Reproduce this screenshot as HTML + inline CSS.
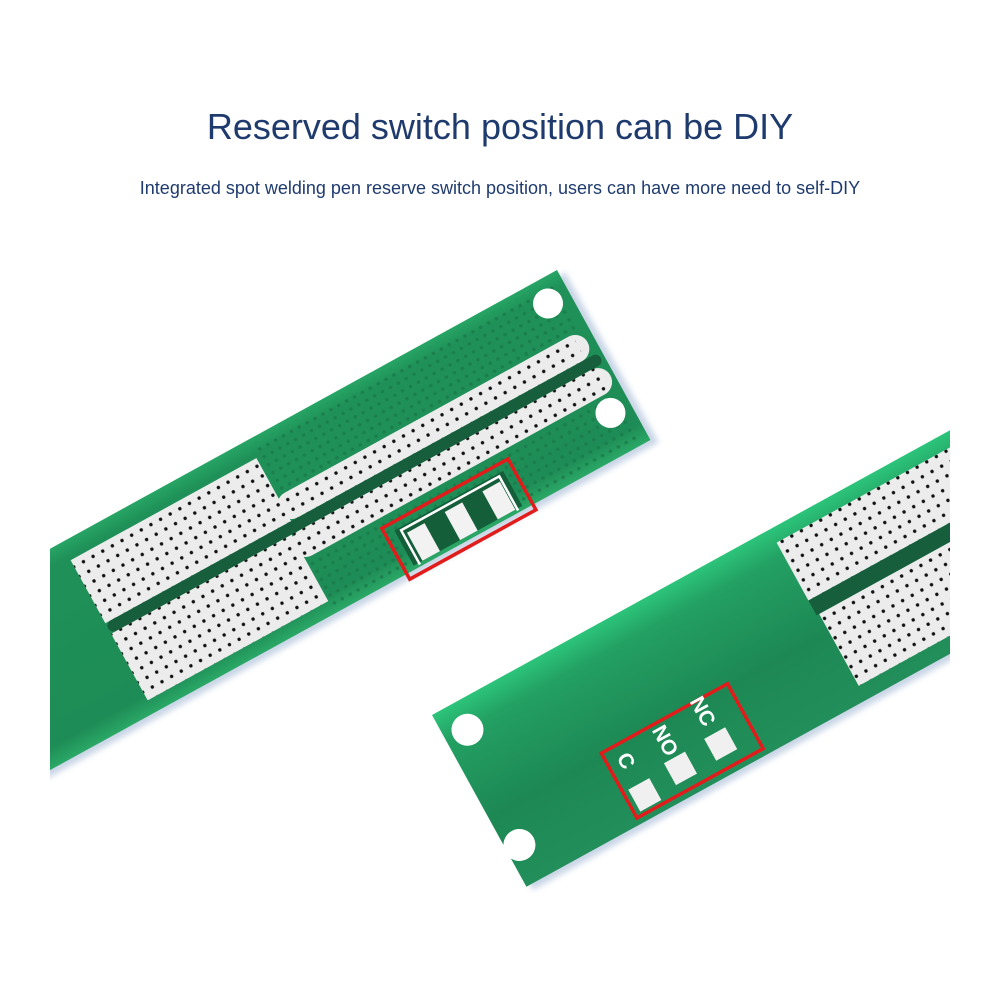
<!DOCTYPE html>
<html><head><meta charset="utf-8"><style>
html,body{margin:0;padding:0;background:#fff;}
body{width:1000px;height:1000px;overflow:hidden;position:relative;font-family:"Liberation Sans",sans-serif;}
.t1{position:absolute;top:106px;left:0;width:1000px;text-align:center;font-size:36px;color:#1f3b6e;}
.t2{position:absolute;top:178px;left:0;width:1000px;text-align:center;font-size:18px;color:#1f3b6e;}
svg{position:absolute;left:0;top:0;}
</style></head><body>
<div class="t1">Reserved switch position can be DIY</div>
<div class="t2">Integrated spot welding pen reserve switch position, users can have more need to self-DIY</div>
<svg width="1000" height="1000" viewBox="0 0 1000 1000">
<defs>
<pattern id="dots" width="11" height="11" patternUnits="userSpaceOnUse"><circle cx="5.5" cy="5.5" r="1.7" fill="#111"/></pattern>
<pattern id="gdots" width="9" height="9" patternUnits="userSpaceOnUse"><circle cx="4.5" cy="4.5" r="1.8" fill="#1a7a4a"/></pattern>
<linearGradient id="g1" x1="0" y1="0" x2="0" y2="1">
<stop offset="0" stop-color="#27a565"/><stop offset="0.08" stop-color="#1f9158"/><stop offset="0.9" stop-color="#1e8c56"/><stop offset="1" stop-color="#2aa866"/></linearGradient>
<linearGradient id="g2" x1="0" y1="0" x2="0" y2="1">
<stop offset="0" stop-color="#2cc47a"/><stop offset="0.15" stop-color="#23a063"/><stop offset="0.6" stop-color="#1d8854"/><stop offset="1" stop-color="#228f5a"/></linearGradient>
<clipPath id="c1"><rect x="50" y="0" width="950" height="1000"/></clipPath>
<clipPath id="c2"><rect x="0" y="0" width="950" height="1000"/></clipPath>
<clipPath id="cb"><rect x="-800" y="0" width="797" height="194"/></clipPath>
<filter id="bl"><feGaussianBlur stdDeviation="3"/></filter>
</defs>

<!-- Board 1 -->
<g clip-path="url(#c1)">
<g transform="translate(557,270) rotate(-28.8)">
<rect x="-800" y="6" width="806" height="194" fill="#c9d6e6" filter="url(#bl)"/>
<rect x="-800" y="0" width="800" height="194" fill="url(#g1)"/>
<rect x="-354" y="6" width="345" height="56" fill="url(#gdots)" opacity="0.8"/>
<rect x="-360" y="134" width="350" height="56" fill="url(#gdots)" opacity="0.8"/>
<g clip-path="url(#cb)">
<rect x="-566" y="20" width="212" height="72" fill="#ececec"/>
<rect x="-360" y="64" width="352" height="28" rx="14" fill="#ececec"/>
<rect x="-566" y="20" width="212" height="72" fill="url(#dots)"/>
<rect x="-354" y="64" width="336" height="28" fill="url(#dots)"/>
<rect x="-566" y="92" width="562" height="12" rx="6" fill="#175e3c"/>
<rect x="-566" y="104" width="206" height="76" fill="#ececec"/>
<rect x="-366" y="104" width="362" height="28" rx="14" fill="#ececec"/>
<rect x="-566" y="104" width="206" height="76" fill="url(#dots)"/>
<rect x="-360" y="104" width="346" height="28" fill="url(#dots)"/>
</g>
<circle cx="-24" cy="25" r="15" fill="#fff"/>
<circle cx="-22" cy="151" r="15" fill="#fff"/>
<rect x="-268" y="150" width="124" height="40" fill="#145f3a"/>
<path d="M-262 192 V153 H-150 V192" fill="none" stroke="#fff" stroke-width="2.5"/>
<rect x="-258" y="158" width="20" height="32" fill="#f2f2f2"/>
<rect x="-215" y="158" width="20" height="32" fill="#f2f2f2"/>
<rect x="-172" y="158" width="20" height="32" fill="#f2f2f2"/>
<rect x="-278" y="142" width="144" height="58" fill="none" stroke="#e21b1b" stroke-width="3.5"/>
</g>
</g>

<!-- Board 2 -->
<g clip-path="url(#c2)">
<g transform="translate(432,715) rotate(-28.8)">
<rect x="4" y="8" width="800" height="194" fill="#c9d6e6" filter="url(#bl)"/>
<rect x="0" y="0" width="800" height="196" fill="url(#g2)"/>
<rect x="385" y="15" width="400" height="66" fill="#ececec"/>
<rect x="385" y="15" width="400" height="66" fill="url(#dots)"/>
<rect x="385" y="81" width="400" height="17" fill="#175e3c"/>
<rect x="388" y="98" width="400" height="82" fill="#ececec"/>
<rect x="388" y="98" width="400" height="82" fill="url(#dots)"/>
<circle cx="24" cy="30" r="16" fill="#fff"/>
<circle cx="14" cy="156" r="16" fill="#fff"/>
<rect x="130" y="115" width="144" height="74" fill="none" stroke="#e21b1b" stroke-width="3.5"/>
<rect x="136" y="160" width="24" height="25" fill="#f0f0f0"/>
<rect x="180" y="154" width="24" height="25" fill="#f0f0f0"/>
<rect x="227" y="152" width="24" height="25" fill="#f0f0f0"/>
<g font-family="Liberation Sans,sans-serif" font-weight="bold" font-size="21" fill="#fff">
<text transform="translate(141,126) rotate(90)">C</text>
<text transform="translate(185,119) rotate(90)">NO</text>
<text transform="translate(232,112) rotate(90)">NC</text>
</g>
</g>
</g>
</svg>
</body></html>
